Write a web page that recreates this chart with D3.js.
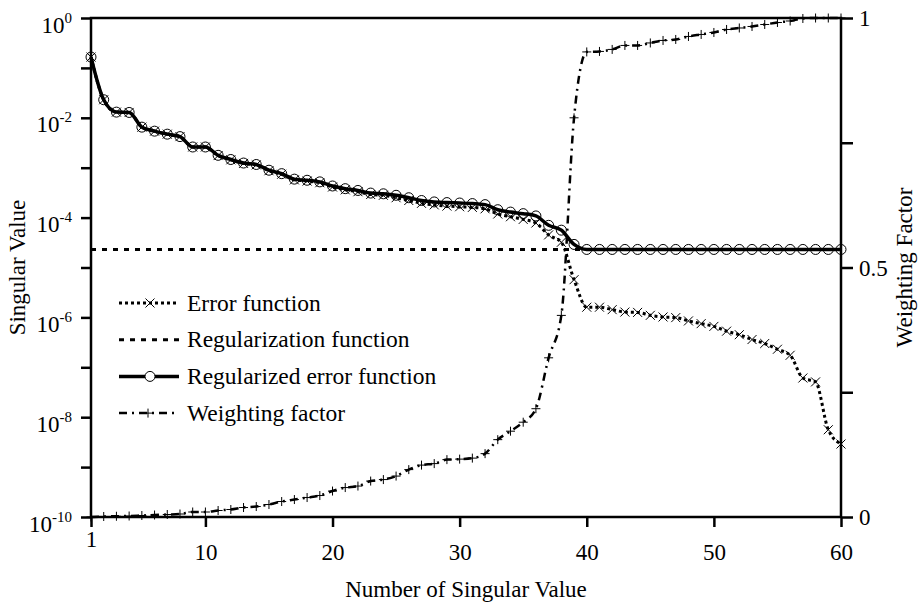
<!DOCTYPE html>
<html>
<head>
<meta charset="utf-8">
<script src="https://cdn.jsdelivr.net/npm/d3@7"></script>
<style>
body { margin: 0; background: #fff; }
svg { display: block; font-family: "Liberation Serif", "Times New Roman", serif; }
</style>
</head>
<body>
<svg id="chart" width="919" height="605"></svg>
<script>
// margins & dimensions
const margin = { top: 18, right: 78, bottom: 88, left: 91 };
const width = 919 - margin.left - margin.right;
const height = 605 - margin.top - margin.bottom;

// number of singular value (1..60)
const index = d3.range(1, 61);

// error function (x markers)
const errorFn = [
    1.65e-1, 2.3e-2, 1.3e-2, 1.28e-2, 6.5e-3, 5.4e-3, 4.7e-3, 4.2e-3, 2.6e-3, 2.6e-3,
    1.75e-3, 1.44e-3, 1.22e-3, 1.14e-3, 8.7e-4, 7.4e-4, 5.7e-4, 5.4e-4, 5.0e-4, 4.1e-4,
    3.6e-4, 3.3e-4, 2.9e-4, 2.8e-4, 2.5e-4, 2.2e-4, 1.93e-4, 1.8e-4, 1.7e-4, 1.65e-4,
    1.6e-4, 1.5e-4, 1.18e-4, 1.04e-4, 9.2e-5, 7.8e-5, 4.5e-5, 3.2e-5, 5.7e-6, 1.6e-6,
    1.6e-6, 1.43e-6, 1.28e-6, 1.26e-6, 1.1e-6, 1.02e-6, 9.9e-7, 8.5e-7, 7.5e-7, 6.6e-7,
    5.3e-7, 4.5e-7, 3.6e-7, 3.0e-7, 2.3e-7, 1.74e-7, 6.1e-8, 5.1e-8, 5.6e-9, 2.9e-9
];

// regularization function (constant level)
const regLevel = 2.3e-5;

// regularized error function (circle markers)
const regularizedFn = [
    1.65e-1, 2.3e-2, 1.3e-2, 1.28e-2, 6.5e-3, 5.4e-3, 4.7e-3, 4.2e-3, 2.6e-3, 2.6e-3,
    1.77e-3, 1.46e-3, 1.24e-3, 1.16e-3, 8.9e-4, 7.6e-4, 5.9e-4, 5.6e-4, 5.2e-4, 4.3e-4,
    3.8e-4, 3.5e-4, 3.1e-4, 3.0e-4, 2.8e-4, 2.5e-4, 2.2e-4, 2.06e-4, 2.0e-4, 1.96e-4,
    1.91e-4, 1.82e-4, 1.44e-4, 1.29e-4, 1.2e-4, 1.08e-4, 7.0e-5, 5.6e-5, 2.9e-5, 2.3e-5,
    2.3e-5, 2.3e-5, 2.3e-5, 2.3e-5, 2.3e-5, 2.3e-5, 2.3e-5, 2.3e-5, 2.3e-5, 2.3e-5,
    2.3e-5, 2.3e-5, 2.3e-5, 2.3e-5, 2.3e-5, 2.3e-5, 2.3e-5, 2.3e-5, 2.3e-5, 2.3e-5
];

// weighting factor (right axis, + markers)
const weighting = [
    0, 0.001, 0.0015, 0.002, 0.003, 0.004, 0.005, 0.006, 0.010, 0.010,
    0.013, 0.015, 0.019, 0.021, 0.025, 0.031, 0.035, 0.039, 0.043, 0.052,
    0.059, 0.062, 0.072, 0.075, 0.082, 0.095, 0.104, 0.107, 0.115, 0.116,
    0.118, 0.127, 0.155, 0.172, 0.19, 0.217, 0.319, 0.404, 0.800, 0.932,
    0.933, 0.937, 0.945, 0.945, 0.950, 0.955, 0.957, 0.963, 0.967, 0.971,
    0.977, 0.980, 0.983, 0.987, 0.991, 0.994, 0.999, 1.0, 1.0, 1.0
];

// ticks
const xTicks = [1, 10, 20, 30, 40, 50, 60];
const yTicks = [1, 1e-1, 1e-2, 1e-3, 1e-4, 1e-5, 1e-6, 1e-7, 1e-8, 1e-9, 1e-10];
const yLabelExps = ["0", "-2", "-4", "-6", "-8", "-10"];
const wTicks = [0, 0.25, 0.5, 0.75, 1];
const wLabels = ["0", "0.5", "1"];

const legendItems = ["Error function", "Regularization function", "Regularized error function", "Weighting factor"];

// scales
const x = d3.scaleLinear().domain([1, 60]).range([0, width]);
const y = d3.scaleLog().domain([1e-10, 1]).range([height, 0]);
const w = d3.scaleLinear().domain([0, 1]).range([height, 0]);

const svg = d3.select("#chart")
    .append("g")
    .attr("transform", `translate(${margin.left},${margin.top})`);

// line styles
const styles = {
    error: { width: 3, dash: "3,3" },
    reg: { width: 3, dash: "5,6" },
    regularized: { width: 3.5, dash: null },
    weight: { width: 2.5, dash: "8,5,2,5" }
};

const curve = d3.curveMonotoneX;

const errLine = d3.line().x((d, i) => x(index[i])).y(d => y(d)).curve(curve);
const wLine = d3.line().x((d, i) => x(index[i])).y(d => w(d)).curve(curve);

// regularization function
svg.append("line")
    .attr("x1", x(1)).attr("x2", x(60))
    .attr("y1", y(regLevel)).attr("y2", y(regLevel))
    .attr("stroke", "#000")
    .attr("stroke-width", styles.reg.width)
    .attr("stroke-dasharray", styles.reg.dash);

// error function
svg.append("path")
    .datum(errorFn)
    .attr("d", errLine)
    .attr("fill", "none").attr("stroke", "#000")
    .attr("stroke-width", styles.error.width)
    .attr("stroke-dasharray", styles.error.dash);

// regularized error function
svg.append("path")
    .datum(regularizedFn)
    .attr("d", errLine)
    .attr("fill", "none").attr("stroke", "#000")
    .attr("stroke-width", styles.regularized.width);

// weighting factor
svg.append("path")
    .datum(weighting)
    .attr("d", wLine)
    .attr("fill", "none").attr("stroke", "#000")
    .attr("stroke-width", styles.weight.width)
    .attr("stroke-dasharray", styles.weight.dash);

// markers
const crossPath = "M-4.5,-4.5L4.5,4.5M-4.5,4.5L4.5,-4.5";
const plusPath = "M-4.5,0L4.5,0M0,-4.5L0,4.5";

svg.selectAll(".cross")
    .data(errorFn)
    .join("path")
    .attr("class", "cross")
    .attr("transform", (d, i) => `translate(${x(index[i])},${y(d)})`)
    .attr("d", crossPath)
    .attr("stroke", "#000").attr("stroke-width", 1);

svg.selectAll(".circ")
    .data(regularizedFn)
    .join("circle")
    .attr("class", "circ")
    .attr("cx", (d, i) => x(index[i]))
    .attr("cy", d => y(d))
    .attr("r", 5)
    .attr("fill", "none").attr("stroke", "#000").attr("stroke-width", 1);

svg.selectAll(".plus")
    .data(weighting)
    .join("path")
    .attr("class", "plus")
    .attr("transform", (d, i) => `translate(${x(index[i])},${w(d)})`)
    .attr("d", plusPath)
    .attr("stroke", "#000").attr("stroke-width", 1);

// axes
const yAxis = svg.append("g")
    .call(d3.axisLeft(y).tickValues(yTicks).tickSize(10).tickSizeOuter(0).tickFormat(""));

const xAxis = svg.append("g")
    .attr("transform", `translate(0,${height})`)
    .call(d3.axisBottom(x).tickValues(xTicks).tickSize(10).tickSizeOuter(0));

const wAxis = svg.append("g")
    .attr("transform", `translate(${width},0)`)
    .call(d3.axisRight(w).tickValues(wTicks).tickSize(12).tickSizeOuter(0)
        .tickFormat(d => wLabels.includes(String(d)) ? String(d) : ""));

[yAxis, xAxis, wAxis].forEach(a => {
    a.attr("font-family", null).attr("font-size", null);
    a.select(".domain").remove();
    a.selectAll(".tick line").attr("stroke-width", 2.5);
    a.selectAll("text").style("font-size", "23px").attr("fill", "#000");
});

xAxis.selectAll("text")
    .attr("dy", null)
    .attr("y", d => d === 1 ? 30 : 43);

wAxis.selectAll("text")
    .attr("x", 18)
    .attr("dy", "0.33em");

// log labels with superscripts
svg.selectAll(".ylab")
    .data(yLabelExps)
    .join("text")
    .attr("class", "ylab")
    .attr("x", -19)
    .attr("y", d => y(Math.pow(10, +d)) + 14.5)
    .attr("text-anchor", "end")
    .style("font-size", "23px")
    .each(function (d) {
        const t = d3.select(this);
        t.append("tspan").text("10");
        t.append("tspan").attr("dy", -10).style("font-size", "15px").text(d);
    });

// frame
svg.append("rect")
    .attr("width", width).attr("height", height)
    .attr("fill", "none").attr("stroke", "#000").attr("stroke-width", 2.5);

// axis titles
svg.append("text")
    .attr("x", width / 2).attr("y", height + 80)
    .attr("text-anchor", "middle")
    .style("font-size", "23px")
    .text("Number of Singular Value");

svg.append("text")
    .attr("transform", `translate(${-74},${height / 2}) rotate(-90)`)
    .attr("text-anchor", "middle")
    .attr("dy", "0.35em")
    .style("font-size", "23px")
    .text("Singular Value");

svg.append("text")
    .attr("transform", `translate(${width + 63},${height / 2}) rotate(-90)`)
    .attr("text-anchor", "middle")
    .attr("dy", "0.35em")
    .style("font-size", "23px")
    .text("Weighting Factor");

// legend
const legend = svg.append("g").attr("transform", "translate(28,285)");
const legendKeys = ["error", "reg", "regularized", "weight"];

legendItems.forEach((name, i) => {
    const row = legend.append("g").attr("transform", `translate(0,${i * 36.7})`);
    const st = styles[legendKeys[i]];
    row.append("line")
        .attr("x1", 0).attr("x2", 60)
        .attr("stroke", "#000")
        .attr("stroke-width", st.width)
        .attr("stroke-dasharray", st.dash);
    if (i === 0) row.append("path").attr("d", crossPath).attr("transform", "translate(31,0)").attr("stroke", "#000");
    if (i === 2) row.append("circle").attr("cx", 31).attr("r", 5).attr("fill", "#fff").attr("stroke", "#000");
    if (i === 3) row.append("path").attr("d", plusPath).attr("transform", "translate(29,0)").attr("stroke", "#000");
    row.append("text")
        .attr("x", 68).attr("dy", "0.33em")
        .style("font-size", "23.5px")
        .text(name);
});
</script>
</body>
</html>
